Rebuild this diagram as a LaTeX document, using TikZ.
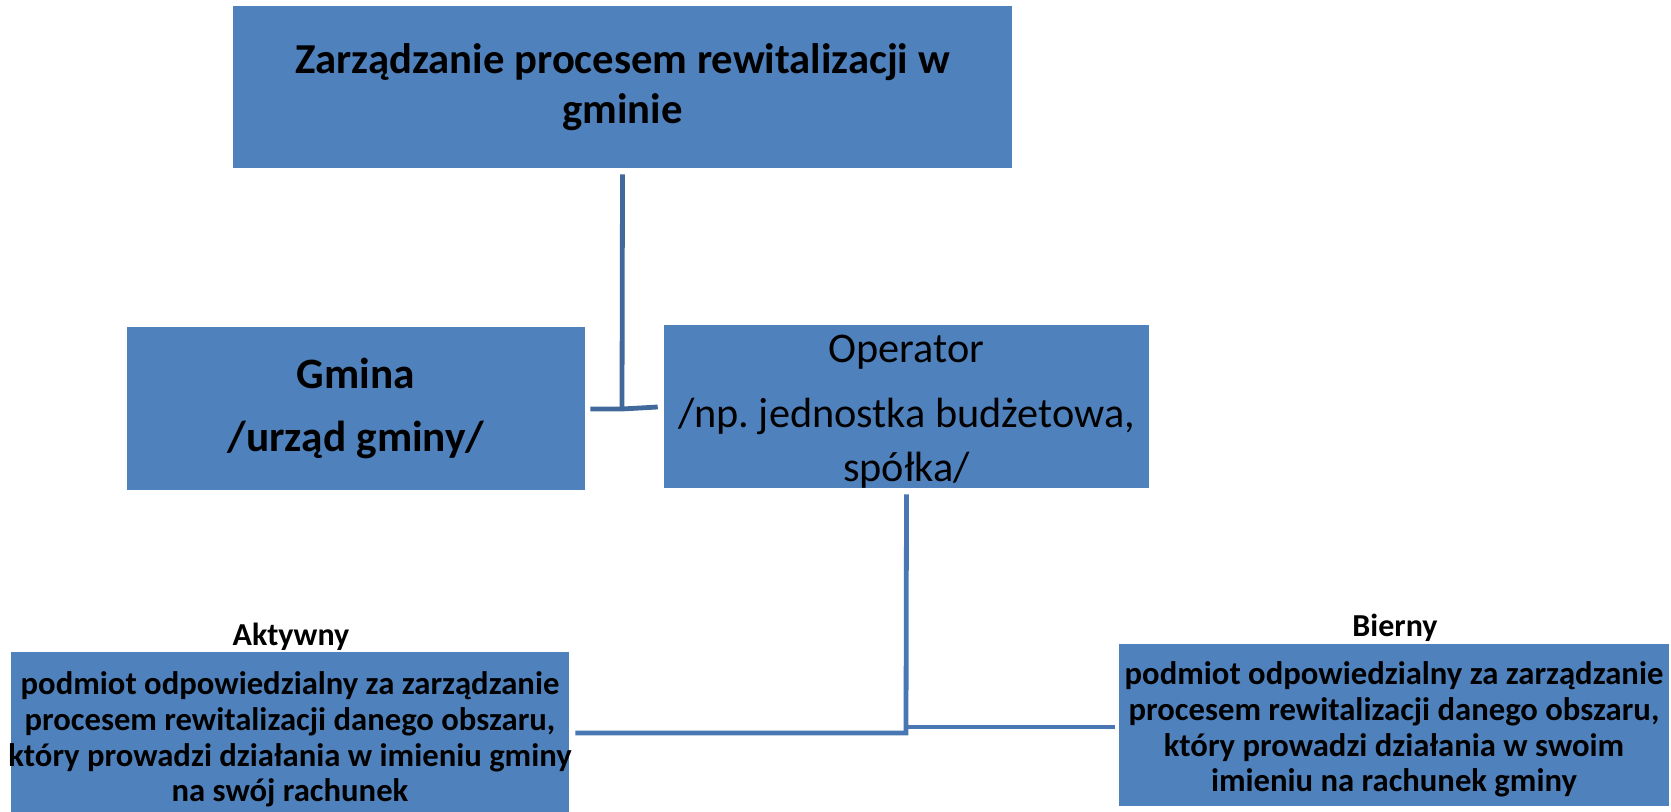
\documentclass[tikz,border=0pt]{standalone}
\usepackage{fontspec}
\setmainfont{Carlito}
\frenchspacing
\definecolor{boxblue}{HTML}{4F81BD}
\definecolor{lineA}{HTML}{41699C}
\definecolor{lineB}{HTML}{4877B3}
\begin{document}
\begin{tikzpicture}[x=0.75pt,y=-0.75pt,
  box/.style={fill=boxblue,draw=none,inner sep=0pt,align=center,text=black},
  txt/.style={inner sep=0pt,align=center,text=black},
  conA/.style={draw=lineA,line width=3.6pt},
  conB/.style={draw=lineB,line width=3.6pt},
  lbl/.style={inner sep=0pt,font=\fontsize{24}{28}\selectfont\bfseries}]
\useasboundingbox (0,0) rectangle (1671,812);
\node[box,minimum width=779*0.75pt,minimum height=162*0.75pt,font=\fontsize{32}{37.5}\selectfont\bfseries] (top) at (622.5,87)
  {Zarządzanie procesem rewitalizacji w\\gminie};
\node[box,minimum width=458*0.75pt,minimum height=163*0.75pt,font=\fontsize{32.5}{47}\selectfont\bfseries] (gm) at (356,408.5)
  {Gmina\\/urząd gminy/};
\node[box,minimum width=485*0.75pt,minimum height=163*0.75pt] (op) at (906.5,406.5) {};
\node[txt,font=\fontsize{31.7}{40.2}\selectfont] (opt) at ([yshift=-5.4*0.75pt]op.center)
  {Operator\\[8.6pt]/np. jednostka budżetowa,\\spółka/};
\node[box,minimum width=558*0.75pt,minimum height=160*0.75pt] (ak) at (290,732) {};
\node[txt,font=\fontsize{24.5}{26.8}\selectfont\bfseries] (akt) at ([yshift=-7.5*0.75pt]ak.center)
  {podmiot odpowiedzialny za zarządzanie\\procesem rewitalizacji danego obszaru,\\który prowadzi działania w imieniu gminy\\na swój rachunek};
\node[box,minimum width=550*0.75pt,minimum height=162*0.75pt] (bi) at (1394,725) {};
\node[txt,font=\fontsize{24.5}{26.8}\selectfont\bfseries] (bit) at ([yshift=-4.5*0.75pt]bi.center)
  {podmiot odpowiedzialny za zarządzanie\\procesem rewitalizacji danego obszaru,\\który prowadzi działania w swoim\\imieniu na rachunek gminy};
\node[lbl] (akl) at (291,637) {Aktywny};
\node[lbl] (bil) at (1395,628) {Bierny};
% connectors
\coordinate (j1) at (622,408);
\draw[conA] ([yshift=-6*0.75pt]top.south) -- (j1);
\draw[conA] ([xshift=5*0.75pt]gm.east |- 0,409) -- (622,409) -- ([xshift=-6*0.75pt]op.west |- 0,407);
\coordinate (j2) at (906,733);
\draw[conB] ([yshift=-6*0.75pt]op.south) -- (j2) -- ([xshift=6*0.75pt]ak.east |- j2);
\draw[conB] (906,727) -- ([xshift=-4*0.75pt]bi.west |- 0,727);
\end{tikzpicture}
\end{document}
